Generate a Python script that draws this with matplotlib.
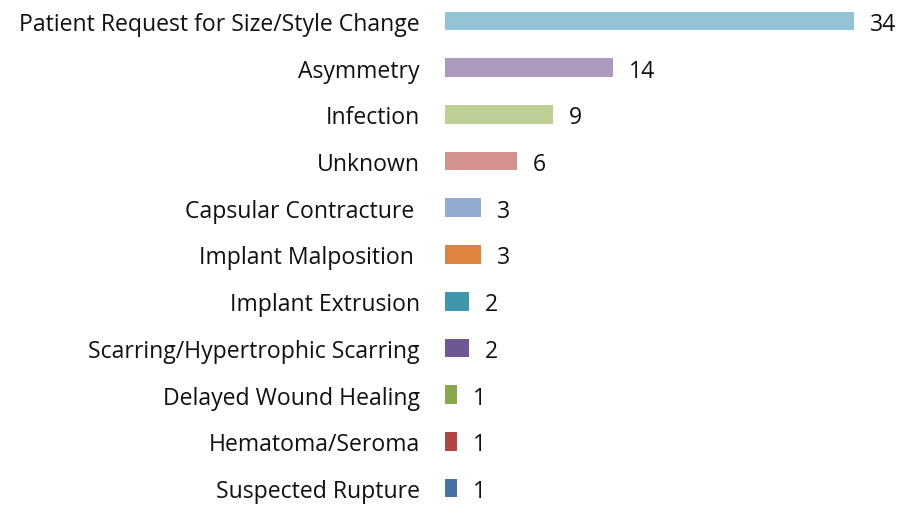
import matplotlib
matplotlib.use("Agg")
import matplotlib.pyplot as plt

# Reasons for revision, top to bottom
categories = ["Patient Request for Size/Style Change", "Asymmetry", "Infection", "Unknown",
              "Capsular Contracture ", "Implant Malposition ", "Implant Extrusion",
              "Scarring/Hypertrophic Scarring", "Delayed Wound Healing",
              "Hematoma/Seroma", "Suspected Rupture"]
counts = [34, 14, 9, 6, 3, 3, 2, 2, 1, 1, 1]
colors = ["#93C3D4", "#AB9ABE", "#BCD096", "#D4928F", "#95AAD3", "#DE843F",
          "#3E97AB", "#6E5793", "#88A84C", "#AE4643", "#4672A8"]

plt.rcParams['font.family'] = ['Open Sans', 'DejaVu Sans']

fig = plt.figure(figsize=(8.99, 5.06), dpi=100)
ax = fig.add_axes([445 / 899, 0, 454 / 899, 1])

ypos = list(range(len(categories)))
ax.barh(ypos, counts, height=0.40, color=colors)

for y, v in zip(ypos, counts):
    ax.annotate(str(v), (v, y), xytext=(11.5, 0), textcoords="offset points",
                va="center_baseline", ha="left", fontsize=16.6, color="#111111")

ax.set_yticks(ypos)
ax.set_yticklabels(categories, fontsize=16.6, color="#111111")
ax.tick_params(axis="y", length=0, pad=18)
ax.set_xticks([])
ax.set_xlim(0, 454 / 12.03)
# row centres from y=22 px to y=489 px
step = (489 - 22) / 10
ax.set_ylim((506 - 22) / step, -22 / step)
for s in ax.spines.values():
    s.set_visible(False)

fig.savefig("out.png", dpi=100, facecolor="white")
